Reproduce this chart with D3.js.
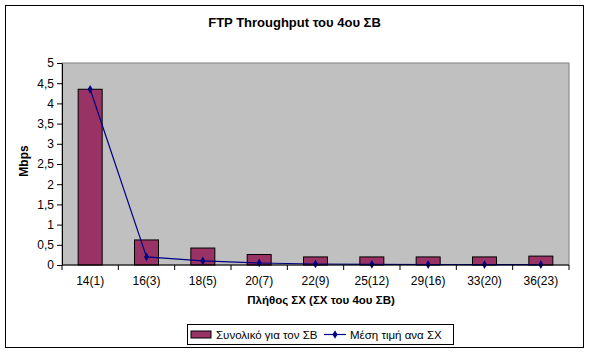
<!DOCTYPE html>
<html><head><meta charset="utf-8">
<script src="https://cdn.jsdelivr.net/npm/d3@7"></script>
<style>body{margin:0;background:#fff;}svg{display:block;font-family:"Liberation Sans",Arial,sans-serif;}</style>
</head><body>
<script>
const categories = ["14(1)","16(3)","18(5)","20(7)","22(9)","25(12)","29(16)","33(20)","36(23)"];
const totalValues = [4.35,0.62,0.42,0.26,0.2,0.2,0.2,0.2,0.22];
const avgValues = [4.35,0.2,0.1,0.05,0.025,0.017,0.012,0.01,0.01];
const yTicks = [0,0.5,1,1.5,2,2.5,3,3.5,4,4.5,5];
const seriesNames = ["Συνολικό για τον ΣΒ","Μέση τιμή ανα ΣΧ"];

const W=589,H=354;
const svg=d3.select("body").append("svg").attr("width",W).attr("height",H);
svg.append("rect").attr("x",5.5).attr("y",5.5).attr("width",578).attr("height",342).attr("fill","#fff").attr("stroke","#000");

const L=62,R=569,T=63,B=265;
const x=d3.scaleBand().domain(categories).range([L,R]);
const y=d3.scaleLinear().domain([0,5]).range([B,T]);

svg.append("rect").attr("x",L).attr("y",T).attr("width",R-L).attr("height",B-T).attr("fill","#c0c0c0").attr("stroke","#808080");

svg.append("text").attr("x",W/2).attr("y",27).attr("text-anchor","middle").attr("font-weight","bold").attr("font-size",13).text("FTP Throughput του 4ου ΣΒ");

const bw=24;
svg.selectAll("rect.bar").data(totalValues).join("rect").attr("class","bar")
 .attr("x",(d,i)=>x(categories[i])+x.bandwidth()/2-bw/2).attr("width",bw)
 .attr("y",d=>y(d)).attr("height",d=>B-y(d)).attr("fill","#993366").attr("stroke","#000").attr("stroke-width",1);

const line=d3.line().x((d,i)=>x(categories[i])+x.bandwidth()/2).y(d=>y(d));
svg.append("path").datum(avgValues).attr("d",line).attr("fill","none").attr("stroke","#000080").attr("stroke-width",1.2);
svg.selectAll("path.mk").data(avgValues).join("path").attr("class","mk")
 .attr("d",d3.symbol(d3.symbolDiamond,22)).attr("fill","#000080")
 .attr("transform",(d,i)=>`translate(${x(categories[i])+x.bandwidth()/2},${y(d)})`);

const fmt=d=>String(d).replace(".",",");
const ya=svg.append("g").attr("transform",`translate(${L},0)`).call(d3.axisLeft(y).tickValues(yTicks).tickFormat(fmt).tickSize(5).tickSizeOuter(0));
ya.select(".domain").attr("stroke","#000");
ya.selectAll("text").attr("font-size",12).attr("font-family","Liberation Sans, Arial").attr("fill","#000");

const xa=svg.append("g").attr("transform",`translate(0,${B})`);
xa.append("line").attr("x1",L).attr("x2",R).attr("stroke","#000");
const bounds=categories.map(c=>x(c)).concat([R]);
xa.selectAll("line.t").data(bounds).join("line").attr("class","t").attr("x1",d=>d).attr("x2",d=>d).attr("y1",0).attr("y2",5).attr("stroke","#000");
xa.selectAll("text").data(categories).join("text").attr("x",d=>x(d)+x.bandwidth()/2).attr("y",20).attr("text-anchor","middle").attr("font-size",12).text(d=>d);

svg.append("text").attr("x",321).attr("y",304).attr("text-anchor","middle").attr("font-weight","bold").attr("font-size",11.5).text("Πλήθος ΣΧ (ΣΧ του 4ου ΣΒ)");
svg.append("text").attr("transform","translate(28,161) rotate(-90)").attr("text-anchor","middle").attr("font-weight","bold").attr("font-size",12).text("Mbps");

const lg=svg.append("g");
lg.append("rect").attr("x",187.5).attr("y",324.5).attr("width",266).attr("height",20).attr("fill","#fff").attr("stroke","#000");
lg.append("rect").attr("x",191).attr("y",331).attr("width",20).attr("height",7).attr("fill","#993366").attr("stroke","#000");
lg.append("text").attr("x",216).attr("y",339).attr("font-size",11.5).text(seriesNames[0]);
lg.append("line").attr("x1",324).attr("x2",346).attr("y1",334.5).attr("y2",334.5).attr("stroke","#000080").attr("stroke-width",1.2);
lg.append("path").attr("d",d3.symbol(d3.symbolDiamond,22)).attr("fill","#000080").attr("transform","translate(335,334.5)");
lg.append("text").attr("x",350).attr("y",339).attr("font-size",11.5).text(seriesNames[1]);
</script>
</body></html>
